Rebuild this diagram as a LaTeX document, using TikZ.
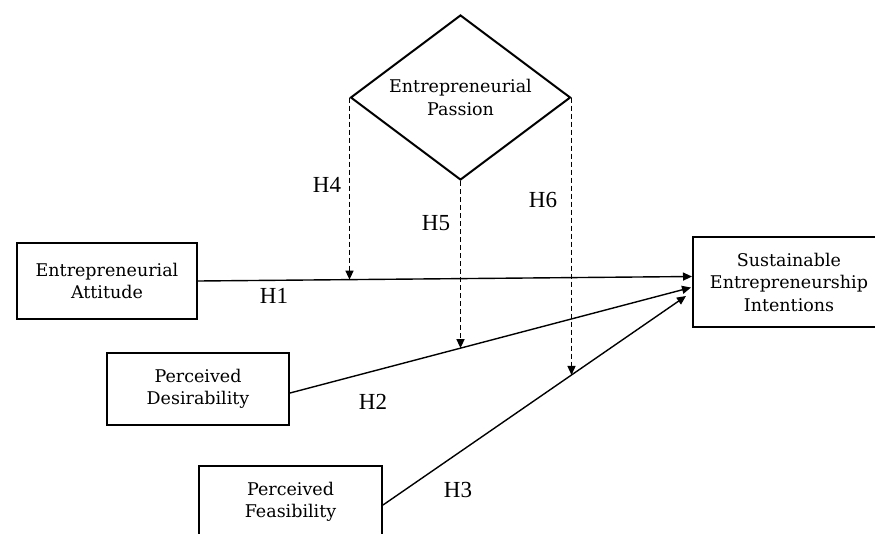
\documentclass[tikz,border=0pt]{standalone}
\usepackage{fontspec}
\setmainfont{DejaVu Serif}
\newfontfamily\hfont{Liberation Serif}
\usetikzlibrary{arrows.meta,shapes.geometric,calc,intersections}
\begin{document}
\begin{tikzpicture}[x=1pt,y=-1pt,
  boxtext/.style={align=center,font=\fontsize{17.5}{22.5}\selectfont},
  box/.style={boxtext,draw,line width=2pt,inner sep=0pt},
  conn/.style={line width=1.4pt,-{Triangle[length=9pt,width=8pt]}},
  modl/.style={line width=1.4pt,dash pattern=on 5pt off 3pt,-{Triangle[length=9pt,width=8pt]}},
  hlab/.style={font=\hfont\fontsize{23}{26}\selectfont,inner sep=0pt}]
\clip (0,0) rectangle (875,533);
\fill[white] (0,0) rectangle (875,533);
% constructs
\node[box,minimum width=180pt,minimum height=76pt] (ea) at (107,281) {Entrepreneurial\\Attitude};
\node[box,minimum width=182pt,minimum height=72pt] (pd) at (198,389) {Perceived\\Desirability};
\node[box,minimum width=183pt,minimum height=72pt] (pf) at (290.5,502) {Perceived\\Feasibility};
\node[box,minimum width=192pt,minimum height=90pt] (sei) at (789,282) {Sustainable\\Entrepreneurship\\Intentions};
\node[boxtext,draw,diamond,aspect=1.333,line width=2pt,minimum width=220pt,minimum height=165pt,inner sep=0pt] (dia) at (460.5,97.5) {Entrepreneurial\\Passion};
% end points
\coordinate (e1) at ($(sei.west)+(0,-5.5)$);
\coordinate (e2) at ($(sei.west)+(-1,5.5)$);
\coordinate (e3) at ($(sei.west)+(-6,14)$);
\coordinate (s2) at ($(pd.east)+(0,4)$);
\coordinate (s3) at ($(pf.east)+(0,3)$);
% direct paths
\draw[conn,name path=h1] (ea.east) -- (e1);
\draw[conn,name path=h2] (s2) -- (e2);
\draw[conn,name path=h3] (s3) -- (e3);
% moderation paths
\path[name path=v4] (dia.west) -- ++(0,300);
\path[name path=v5] (dia.south) -- ++(0,300);
\path[name path=v6] (dia.east) -- ++(0,300);
\path[name intersections={of=v4 and h1,by=i4}];
\path[name intersections={of=v5 and h2,by=i5}];
\path[name intersections={of=v6 and h3,by=i6}];
\draw[modl] (dia.west) -- (i4);
\draw[modl] (dia.south) -- (i5);
\draw[modl] (dia.east) -- (i6);
% labels
\node[hlab] (l1) at (274,296) {H1};
\node[hlab] (l2) at (373,402) {H2};
\node[hlab] (l3) at (458,490) {H3};
\node[hlab] (l4) at (327,185) {H4};
\node[hlab] (l5) at (436,223) {H5};
\node[hlab] (l6) at (543,200) {H6};
\end{tikzpicture}
\end{document}
